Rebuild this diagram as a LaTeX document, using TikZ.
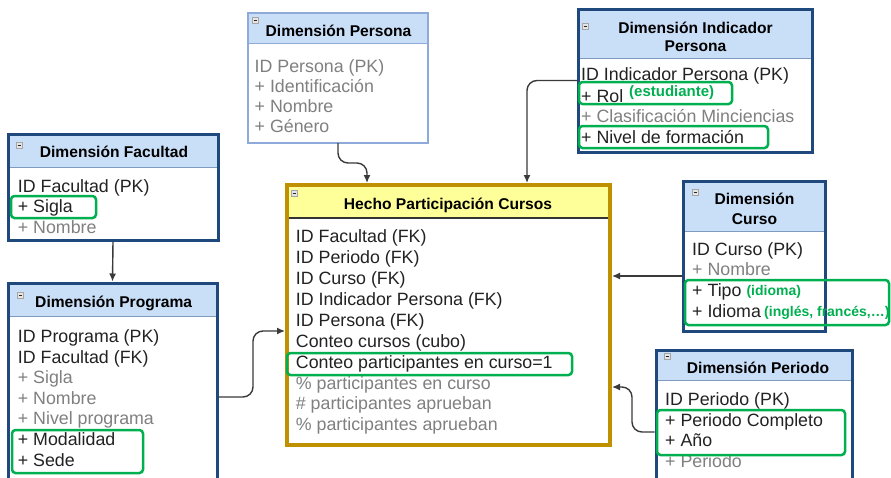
\documentclass[tikz,border=0pt]{standalone}
\usepackage{fontspec}
\setmainfont{Liberation Sans}
\usetikzlibrary{calc,arrows.meta}
\definecolor{navy}{HTML}{1F497D}
\definecolor{hdrblue}{HTML}{C9DEF7}
\definecolor{lightedge}{HTML}{8EAADB}
\definecolor{sepblue}{HTML}{7F9CC0}
\definecolor{gold}{HTML}{BF9000}
\definecolor{paleyellow}{HTML}{FFFF99}
\definecolor{hlgreen}{HTML}{00B050}
\definecolor{darktxt}{HTML}{222222}
\definecolor{greytxt}{HTML}{808080}
\definecolor{connc}{HTML}{3A3A3A}
\tikzset{
  dimbox/.style={anchor=north west, outer sep=0pt, inner sep=0pt, draw=navy, line width=3pt, fill=white},
  rowtxt/.style={anchor=base west, inner sep=0pt, font=\fontsize{17.8}{20}\selectfont, text=darktxt},
  greyrow/.style={rowtxt, text=greytxt},
  hdrtxt/.style={anchor=base, inner sep=0pt, font=\bfseries\fontsize{15.6}{19}\selectfont, text=black},
  note/.style={anchor=base west, inner sep=0pt, font=\bfseries\fontsize{14}{16}\selectfont, text=hlgreen},
  hl/.style={draw=hlgreen, line width=2.5pt, rounded corners=3.5pt},
  conn/.style={draw=connc, line width=1.4pt, rounded corners=10pt, -{Latex[length=8pt,width=7pt]}},
  iconbox/.style={draw=gray!70, fill=gray!20, line width=0.6pt},
  sepline/.style={draw=sepblue, line width=1pt},
}
\newcommand\mkicon[2]{\draw[iconbox] (#1,#2) rectangle ++(6.5,6); \draw[gray!30!black, line width=0.8pt] (#1+1.5,#2+3) -- ++(3.5,0);}
\begin{document}
\begin{tikzpicture}[x=1pt,y=-1pt]
\useasboundingbox (0,0) rectangle (891,477);
\clip (0,0) rectangle (891,477);
\fill[white] (0,0) rectangle (891,477);

% ---------- Dimension Persona ----------
\node[dimbox, draw=lightedge, line width=1.5pt, minimum width=180pt, minimum height=130pt] (persona) at (248,13) {};
\fill[hdrblue] (248.75,13.75) rectangle (427.25,43);
\draw[draw=lightedge, line width=1pt] (248,43) -- (428,43);
\draw[draw=lightedge, line width=1.5pt] (248,13) rectangle (428,143);
\mkicon{252}{17}
\node[hdrtxt] (personaH) at (338.5,36.7) {Dimensión Persona};
\node[greyrow] (pe1) at (254.5,72.5) {ID Persona (PK)};
\node[greyrow] (pe2) at (254.5,92.7) {+ Identificación};
\node[greyrow] (pe3) at (254.5,112.7) {+ Nombre};
\node[greyrow] (pe4) at (254.5,132.7) {+ Género};

% ---------- Dimension Indicador Persona ----------
\node[dimbox, minimum width=234pt, minimum height=143pt] (indic) at (578,9) {};
\fill[hdrblue] (579.5,10.5) rectangle (810.5,58);
\draw[sepline] (578,58) -- (812,58);
\draw[navy, line width=3pt] (578,9) rectangle (812,152);
\mkicon{582}{23}
\node[hdrtxt] (indicH1) at (695.5,33.3) {Dimensión Indicador};
\node[hdrtxt] (indicH2) at (695.5,51) {Persona};
\node[rowtxt] (in1) at (581,80) {ID Indicador Persona (PK)};
\node[rowtxt] (in2) at (581,102.7) {+ Rol};
\node[note, font=\bfseries\fontsize{15}{17}\selectfont] (in2n) at (629,96) {(estudiante)};
\node[greyrow] (in3) at (581,122.5) {+ Clasificación Minciencias};
\node[rowtxt] (in4) at (581,143.3) {+ Nivel de formación};
\draw[hl] (579,82) rectangle (732,104);
\draw[hl] (579,126) rectangle (768,148);

% ---------- Dimension Facultad ----------
\node[dimbox, minimum width=210pt, minimum height=106pt] (fac) at (8,134) {};
\fill[hdrblue] (9.5,135.5) rectangle (216.5,167);
\draw[sepline] (8,167) -- (218,167);
\draw[navy, line width=3pt] (8,134) rectangle (218,240);
\mkicon{16}{142}
\node[hdrtxt] (facH) at (114,157.3) {Dimensión Facultad};
\node[rowtxt] (fa1) at (17.7,192.7) {ID Facultad (PK)};
\node[rowtxt] (fa2) at (17.7,212.7) {+ Sigla};
\node[greyrow] (fa3) at (17.7,233.3) {+ Nombre};
\draw[hl] (11,196) rectangle (96,218);

% ---------- Dimension Programa ----------
\node[dimbox, minimum width=209pt, minimum height=212pt] (prog) at (8,283) {};
\fill[hdrblue] (9.5,284.5) rectangle (215.5,316);
\draw[sepline] (8,316) -- (217,316);
\draw[navy, line width=3pt] (8,283) rectangle (217,495);
\mkicon{17}{292}
\node[hdrtxt] (progH) at (113.7,307.3) {Dimensión Programa};
\node[rowtxt] (pr1) at (17.7,342.7) {ID Programa (PK)};
\node[rowtxt] (pr2) at (17.7,363.3) {ID Facultad (FK)};
\node[greyrow] (pr3) at (17.7,383.3) {+ Sigla};
\node[greyrow] (pr4) at (17.7,404) {+ Nombre};
\node[greyrow] (pr5) at (17.7,424) {+ Nivel programa};
\node[rowtxt] (pr6) at (17.7,445) {+ Modalidad};
\node[rowtxt] (pr7) at (17.7,466) {+ Sede};
\draw[hl] (12,430) rectangle (143,473);

% ---------- Hecho Participacion Cursos ----------
\node[dimbox, draw=gold, line width=4pt, minimum width=323pt, minimum height=260pt] (hecho) at (287,185) {};
\fill[paleyellow] (289,187) rectangle (608,218);
\draw[gray!40!black, line width=1.2pt] (287,218) -- (610,218);
\draw[gold, line width=4pt] (287,185) rectangle (610,445);
\mkicon{291}{190}
\node[hdrtxt] (hechoH) at (448,209.3) {Hecho Participación Cursos};
\node[rowtxt] (he1) at (295.7,242.7) {ID Facultad (FK)};
\node[rowtxt] (he2) at (295.7,263.6) {ID Periodo (FK)};
\node[rowtxt] (he3) at (295.7,284.5) {ID Curso (FK)};
\node[rowtxt] (he4) at (295.7,305.4) {ID Indicador Persona (FK)};
\node[rowtxt] (he5) at (295.7,326.3) {ID Persona (FK)};
\node[rowtxt] (he6) at (295.7,347.2) {Conteo cursos (cubo)};
\node[rowtxt] (he7) at (295.7,368.1) {Conteo participantes en curso=1};
\node[greyrow] (he8) at (295.7,389) {\% participantes en curso};
\node[greyrow] (he9) at (295.7,409.9) {\# participantes aprueban};
\node[greyrow] (he10) at (295.7,430.8) {\% participantes aprueban};
\draw[hl] (287,353) rectangle (572,375);

% ---------- Dimension Curso ----------
\node[dimbox, minimum width=142pt, minimum height=150pt] (curso) at (683,181) {};
\fill[hdrblue] (684.5,182.5) rectangle (823.5,231);
\draw[sepline] (683,231) -- (825,231);
\draw[navy, line width=3pt] (683,181) rectangle (825,331);
\mkicon{692}{189}
\node[hdrtxt] (cursoH1) at (754.5,204.7) {Dimensión};
\node[hdrtxt] (cursoH2) at (754.5,224.7) {Curso};
\node[rowtxt] (cu1) at (692,255.3) {ID Curso (PK)};
\node[greyrow] (cu2) at (692,275.7) {+ Nombre};
\node[rowtxt] (cu3) at (692,296.3) {+ Tipo};
\node[note] (cu3n) at (746.3,295.5) {(idioma)};
\node[rowtxt] (cu4) at (692,317.3) {+ Idioma};
\node[note] (cu4n) at (764,316.5) {(inglés, francés,…)};
\draw[hl] (685,280) rectangle (889,325);

% ---------- Dimension Periodo ----------
\node[dimbox, minimum width=196pt, minimum height=145pt] (periodo) at (656,350) {};
\fill[hdrblue] (657.5,351.5) rectangle (850.5,380);
\draw[sepline] (656,380) -- (852,380);
\draw[navy, line width=3pt] (656,350) rectangle (852,495);
\mkicon{664}{353}
\node[hdrtxt] (periodoH) at (758,373.3) {Dimensión Periodo};
\node[rowtxt] (ps1) at (665,405.7) {ID Periodo (PK)};
\node[rowtxt] (ps2) at (665,426.7) {+ Periodo Completo};
\node[rowtxt] (ps3) at (665,446.7) {+ Año};
\node[greyrow] (ps4) at (665,467.7) {+ Periodo};
\draw[hl] (657,410) rectangle (845,455);

% ---------- Connectors ----------
\coordinate (hechoEdgeE) at ($(hecho.east)+(2,0)$);
\coordinate (cursoOut) at ($(curso.west)+(-1.5,20)$);
\draw[conn] (persona.south) |- ($(hecho.north west)+(80,-22)$) -- ($(hecho.north west)+(80,-2)$);
\draw[conn] (indic.west) -| ($(hecho.north west)+(240,-2)$);
\draw[conn] ($(fac.south)+(0,1.5)$) -- ($(prog.north)+(0,-1.5)$);
\draw[conn] ($(prog.north east)+(1.5,114)$) -- ++(34.5,0) |- ($(hecho.west)+(-2,16)$);
\draw[conn] (cursoOut) -- (cursoOut -| hechoEdgeE);
\draw[conn] ($(periodo.north west)+(-1.5,82)$) -- ++(-22.5,0) |- ($(hecho.east)+(2,72)$);
\end{tikzpicture}
\end{document}
